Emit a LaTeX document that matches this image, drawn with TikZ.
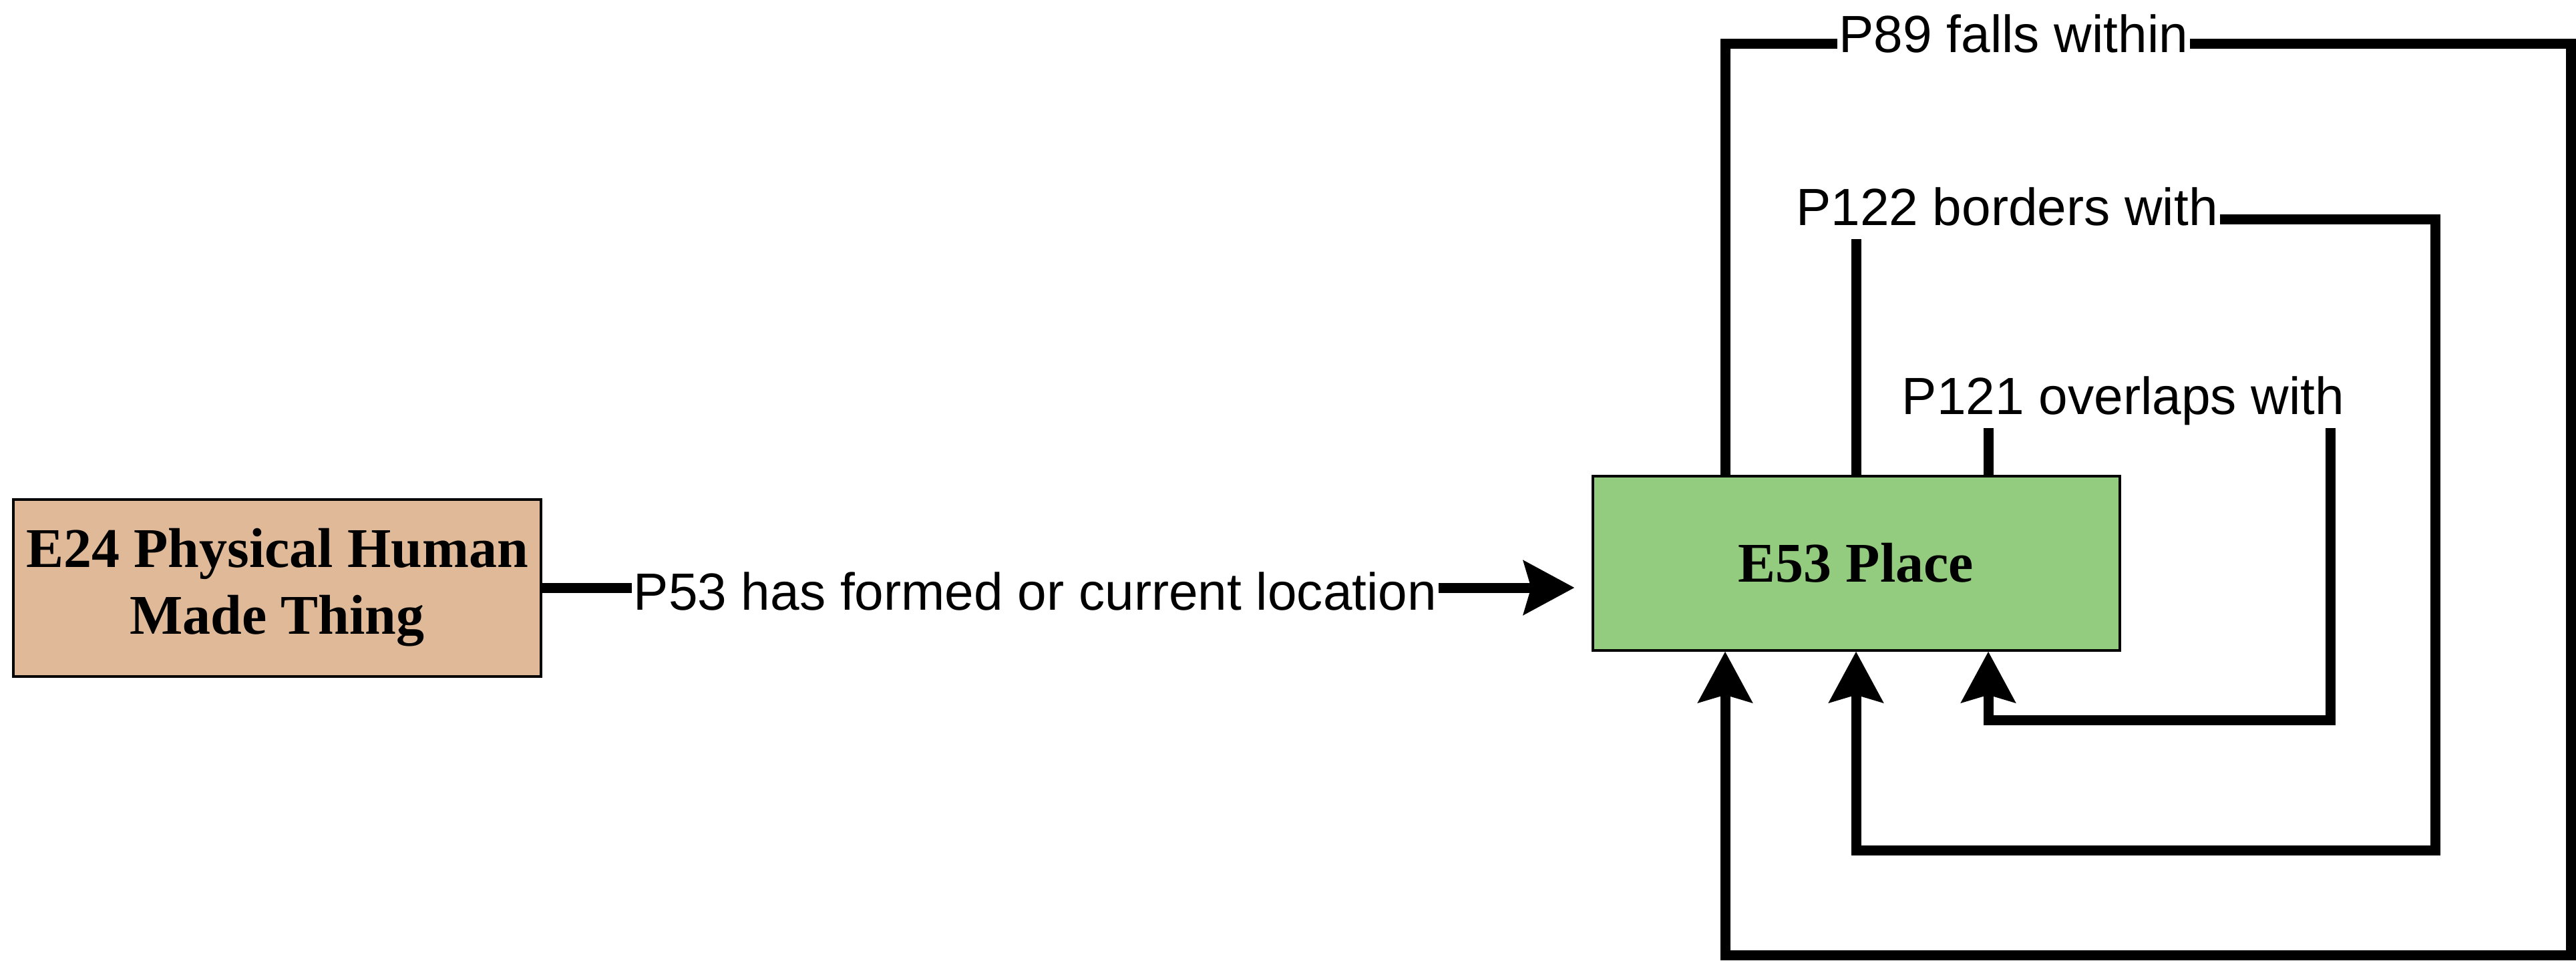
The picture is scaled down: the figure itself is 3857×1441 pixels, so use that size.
\documentclass[tikz,border=0pt]{standalone}
\usepackage{fontspec}
\setmainfont{Liberation Serif}
\setsansfont{Liberation Sans}
\usetikzlibrary{arrows.meta}
\definecolor{peach}{RGB}{224,185,152}
\definecolor{leaf}{RGB}{147,204,126}
\begin{document}
\begin{tikzpicture}[x=0.1mm,y=-0.1mm,
  entity/.style={draw=black, line width=0.4mm, rectangle, align=center,
    font=\fontsize{23.9pt}{28.45pt}\selectfont\bfseries, inner sep=0pt},
  rel/.style={line width=1.5mm, line join=miter,
    -{Stealth[length=7.6mm,width=8mm,inset=1.1mm]}},
  lbl/.style={fill=white, font=\sffamily\fontsize{22.3pt}{26pt}\selectfont,
    inner xsep=0.3mm, inner ysep=0pt, text height=6mm, text depth=2.1mm, anchor=base}]
\useasboundingbox (0,0) rectangle (3857,1441);

\node[entity, fill=peach, minimum width=79mm, minimum height=26.5mm] (thing) at (415,880) {E24 Physical Human\\Made Thing};
\node[entity, fill=leaf, minimum width=78.9mm, minimum height=26.1mm] (place) at (2779,843) {E53 Place};

% routing points
\coordinate (a89) at (2583,65);
\coordinate (b89) at (3849,65);
\coordinate (c89) at (3849,1430);
\coordinate (d89) at (2583,1430);
\coordinate (a122) at (2779,328);
\coordinate (b122) at (3646,328);
\coordinate (c122) at (3646,1273);
\coordinate (d122) at (2779,1273);
\coordinate (a121) at (2977,600);
\coordinate (b121) at (3489,600);
\coordinate (c121) at (3489,1078);
\coordinate (d121) at (2977,1078);

\draw[rel, shorten >=2.5mm] (thing.east) -- (thing.east -| place.west);
\draw[rel] (place.north -| a89) -- (a89) -- (b89) -- (c89) -- (d89) -- (place.south -| d89);
\draw[rel] (place.north -| a122) -- (a122) -- (b122) -- (c122) -- (d122) -- (place.south -| d122);
\draw[rel] (place.north -| a121) -- (a121) -- (b121) -- (c121) -- (d121) -- (place.south -| d121);

\node[lbl] (l89) at (3015,78) {P89 falls within};
\node[lbl] (l122) at (3005,337) {P122 borders with};
\node[lbl] (l121) at (3179,620) {P121 overlaps with};
\node[lbl] (l53) at (1550,913) {P53 has formed or current location};
\end{tikzpicture}
\end{document}
